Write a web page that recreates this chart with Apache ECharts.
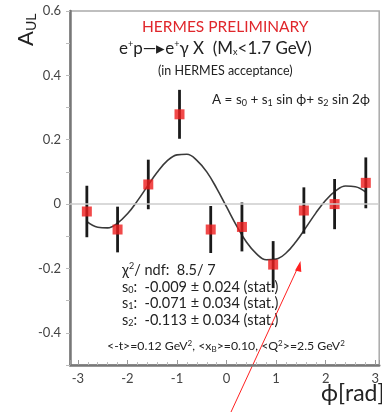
<!DOCTYPE html>
<html>
<head>
<meta charset="utf-8">
<script src="https://cdn.jsdelivr.net/npm/echarts@6/dist/echarts.min.js"></script>
<style>
html,body{margin:0;padding:0;background:#fff;}
#c{width:382px;height:412px;}
</style>
</head>
<body>
<div id="c"></div>
<script>
// Data
const phiBins = [-2.82, -2.20, -1.58, -0.95, -0.32, 0.31, 0.94, 1.56, 2.18, 2.81];
const aulValues = [-0.023, -0.079, 0.061, 0.279, -0.079, -0.071, -0.188, -0.020, 0.000, 0.066];
const aulErrors = [0.080, 0.071, 0.077, 0.076, 0.073, 0.076, 0.073, 0.072, 0.078, 0.079];
// fit curve
const curvePhi = [-2.83, -2.6, -2.4, -2.2, -2.0, -1.8, -1.6, -1.4, -1.2, -1.0, -0.8, -0.6, -0.4, -0.2, 0.0, 0.2, 0.4, 0.6, 0.8, 1.0, 1.2, 1.4, 1.6, 1.8, 2.0, 2.2, 2.4, 2.6, 2.81];
const curveA = [-0.053, -0.072, -0.074, -0.059, -0.030, 0.010, 0.055, 0.099, 0.134, 0.153, 0.155, 0.136, 0.100, 0.049, -0.009, -0.067, -0.118, -0.154, -0.173, -0.171, -0.152, -0.117, -0.073, -0.028, 0.012, 0.041, 0.056, 0.054, 0.037];
const yTickLabels = ['-0.4', '-0.2', '0', '0.2', '0.4', '0.6'];
const xTickLabels = ['-3', '-2', '-1', '0', '1', '2', '3'];

const FONT = 'Lato';
const chart = echarts.init(document.getElementById('c'), null, {renderer: 'canvas'});

const points = phiBins.map((x, i) => [x, aulValues[i]]);
const bars = phiBins.map((x, i) => [x, aulValues[i] - aulErrors[i], aulValues[i] + aulErrors[i]]);
const curve = curvePhi.map((x, i) => [x, curveA[i]]);

function fmtY(v) {
  const r = Math.round(v * 10) / 10;
  const s = r === 0 ? '0' : String(r);
  return yTickLabels.indexOf(s) >= 0 ? s : '';
}
function fmtX(v) {
  const s = String(Math.round(v * 100) / 100);
  return xTickLabels.indexOf(s) >= 0 ? s : '';
}
const sp = (fs, p) => ({fontSize: fs, padding: [0, 0, p, 0], fontFamily: FONT, fill: '#222'});
const sb = (fs, p) => ({fontSize: fs, padding: [p, 0, 0, 0], fontFamily: FONT, fill: '#222'});

const option = {
  backgroundColor: '#fff',
  animation: false,
  grid: {left: 70, right: 2, top: 11, bottom: 47, show: true, borderColor: '#aaa', borderWidth: 1.5, containLabel: false},
  xAxis: {
    type: 'value', min: -3.16, max: 3.08,
    axisLine: {show: true, onZero: false, lineStyle: {color: '#777', width: 2.5}},
    axisTick: {show: true, inside: true, length: 5, lineStyle: {color: '#999'}},
    minorTick: {show: true, splitNumber: 5, length: 3, lineStyle: {color: '#bbb'}},
    splitLine: {show: false},
    axisLabel: {formatter: fmtX, showMinLabel: false, showMaxLabel: false, color: '#444', fontFamily: FONT, fontSize: 13, margin: 7}
  },
  yAxis: {
    type: 'value', min: -0.5, max: 0.6, interval: 0.1,
    axisLine: {show: true, onZero: false, lineStyle: {color: '#777', width: 2.5}},
    axisTick: {show: true, inside: false, length: 4, lineStyle: {color: '#bbb'}},
    splitLine: {show: false},
    axisLabel: {formatter: fmtY, color: '#444', fontFamily: FONT, fontSize: 13, margin: 9}
  },
  series: [
    {
      type: 'line', data: curve, smooth: 0.4, symbol: 'none',
      lineStyle: {color: '#3a3a3a', width: 1.6}, z: 2,
      markLine: {
        silent: true, symbol: 'none', label: {show: false},
        lineStyle: {color: '#ccc', width: 1.5, type: 'solid'},
        data: [{yAxis: 0}]
      }
    },
    {
      type: 'custom', data: bars, z: 3,
      renderItem: function (params, api) {
        const x = api.value(0);
        const lo = api.coord([x, api.value(1)]);
        const hi = api.coord([x, api.value(2)]);
        return {type: 'line', shape: {x1: lo[0], y1: lo[1], x2: hi[0], y2: hi[1]}, style: {stroke: '#1a1a1a', lineWidth: 2.8}};
      }
    },
    {
      type: 'scatter', data: points, symbol: 'rect', symbolSize: 10, z: 4,
      itemStyle: {color: '#ee1c1c'}
    },
    {
      type: 'custom', data: [[0, 0]], clip: false, silent: true, z: 5,
      renderItem: function () {
        return {
          type: 'text', x: 14, y: 46, rotation: Math.PI / 2,
          style: {
            text: '{a|A}{s|UL}',
            rich: {a: {fontSize: 22, fontFamily: FONT, fill: '#222'}, s: {fontSize: 14, fontFamily: FONT, fill: '#222', padding: [10, 0, 0, 0]}}
          }
        };
      }
    }
  ],
  graphic: [
    {type: 'text', left: 321, top: 382, style: {text: 'ϕ[rad]', fontSize: 23, fontFamily: FONT, fill: '#222'}},
    {type: 'text', left: 142, top: 19, style: {text: 'HERMES PRELIMINARY', fontSize: 15.5, fontFamily: FONT, fill: '#e0262b'}},
    {type: 'text', left: 119, top: 40, style: {
      text: 'e{sp|+}p\u2014\u25B8e{sp|+}γ X  (M{sb|x}<1.7 GeV)',
      rich: {sp: sp(9, 8), sb: sb(9, 7)},
      fontSize: 17, fontFamily: FONT, fill: '#222'}},
    {type: 'text', left: 158, top: 64, style: {text: '(in HERMES acceptance)', fontSize: 12.5, fontFamily: FONT, fill: '#222'}},
    {type: 'text', left: 212, top: 93, style: {
      text: 'A = s{sb|0} + s{sb|1} sin ϕ+ s{sb|2} sin 2ϕ',
      rich: {sb: sb(9, 6)},
      fontSize: 13.5, fontFamily: FONT, fill: '#222'}},
    {type: 'text', left: 122, top: 262, style: {
      text: 'χ{sp|2}/ ndf:  8.5/ 7\ns{sb|0}:  -0.009 ± 0.024 (stat.)\ns{sb|1}:  -0.071 ± 0.034 (stat.)\ns{sb|2}:  -0.113 ± 0.034 (stat.)',
      rich: {sp: sp(9, 8), sb: sb(9, 6)},
      fontSize: 14.5, lineHeight: 16.5, fontFamily: FONT, fill: '#222'}},
    {type: 'text', left: 107, top: 339, style: {
      text: '<-t>=0.12 GeV{sp|2}, <x{sb|B}>=0.10, <Q{sp|2}>=2.5 GeV{sp|2}',
      rich: {sp: sp(8, 7), sb: sb(8, 5)},
      fontSize: 12.3, fontFamily: FONT, fill: '#222'}},
    {type: 'line', shape: {x1: 231, y1: 412, x2: 299, y2: 265}, style: {stroke: '#ff2020', lineWidth: 1}},
    {type: 'polygon', shape: {points: [[300.5, 261], [295, 270.5], [301.3, 272]]}, style: {fill: '#ff2020'}}
  ]
};
chart.setOption(option);
</script>
</body>
</html>
